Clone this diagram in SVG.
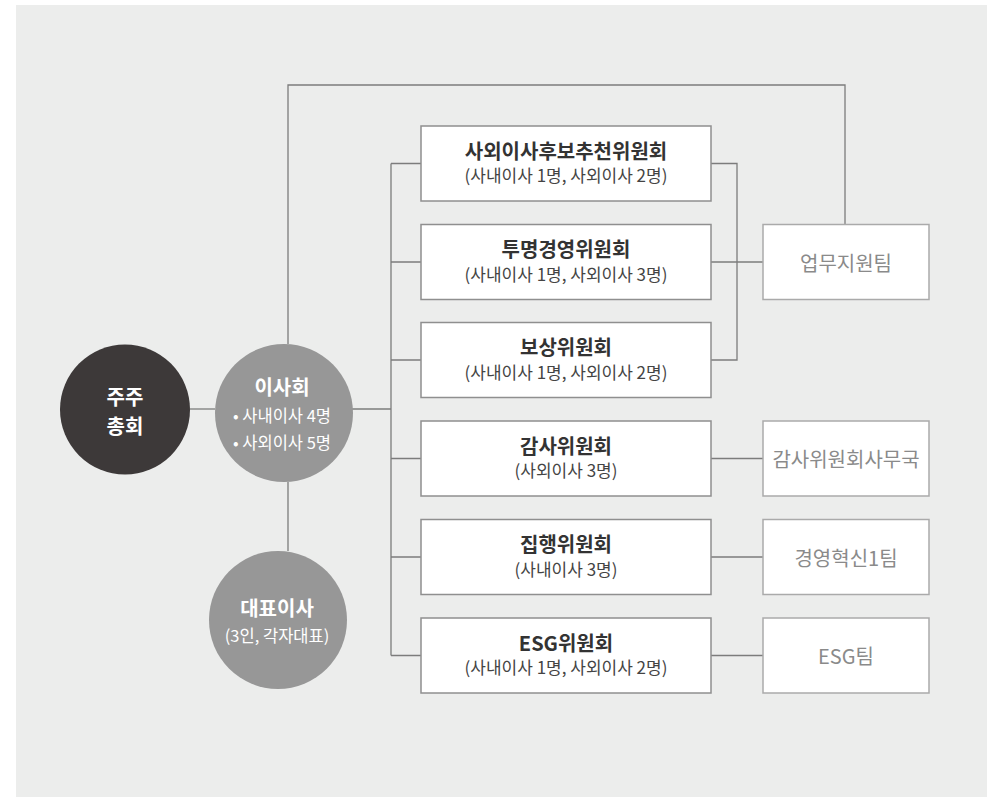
<svg xmlns="http://www.w3.org/2000/svg" width="987" height="797" viewBox="0 0 987 797">
<style>
text{font-family:"Noto Sans CJK KR","Noto Sans",sans-serif;text-anchor:middle;dominant-baseline:central}
.ttl{font-size:20px;font-weight:700;fill:#333}
.ctl{font-size:20px;font-weight:700;fill:#fff}
.sub{font-size:17px;font-weight:400;fill:#444}
.csub{font-size:16.5px;font-weight:400;fill:#fff}
.cbox{fill:#fff;stroke:#8f8f8f;stroke-width:1.5}
.tbox{fill:#fff;stroke:#aaa;stroke-width:1.5}
.team{font-size:20px;font-weight:400;fill:#8a8a8a}
.ln{fill:none;stroke:#7c7c7c;stroke-width:1.3}
</style>
<rect x="0" y="0" width="987" height="797" fill="#fff"/>
<rect x="16" y="5" width="971" height="792" fill="#ECEDEC"/>
<g id="connectors">
<path class="ln" d="M288 344 V85 H845 V224"/>
<path class="ln" d="M190 409 H215"/>
<path class="ln" d="M352 409 H391"/>
<path class="ln" d="M288 482 V551"/>
<path class="ln" d="M391 163.5 V655.5"/>
<path class="ln" d="M391 163.5 H421 M391 262 H421 M391 360 H421 M391 458.5 H421 M391 557 H421 M391 655.5 H421"/>
<path class="ln" d="M711 163.5 H737 V360 H711"/>
<path class="ln" d="M711 262 H763"/>
<path class="ln" d="M711 458.5 H763 M711 557 H763 M711 655.5 H763"/>
</g>
<g id="shareholders">
<circle cx="125" cy="409.5" r="65" fill="#3D3939"/>
<text class="ctl" x="125" y="396">주주</text>
<text class="ctl" x="125" y="425">총회</text>
</g>
<g id="board">
<circle cx="284" cy="413" r="69" fill="#979797"/>
<text class="ctl" x="282" y="386">이사회</text>
<text class="csub" x="282" y="415">• 사내이사 4명</text>
<text class="csub" x="282" y="442">• 사외이사 5명</text>
</g>
<g id="ceo">
<circle cx="278" cy="620" r="69" fill="#979797"/>
<text class="ctl" x="277" y="607">대표이사</text>
<text class="csub" x="277" y="635">(3인, 각자대표)</text>
</g>
<g id="c1">
<rect class="cbox" x="421" y="126" width="290" height="75"/>
<text class="ttl" x="566" y="150">사외이사후보추천위원회</text>
<text class="sub" x="566" y="174.5">(사내이사 1명, 사외이사 2명)</text>
</g>
<g id="c2">
<rect class="cbox" x="421" y="224.5" width="290" height="75"/>
<text class="ttl" x="566" y="248.5">투명경영위원회</text>
<text class="sub" x="566" y="273">(사내이사 1명, 사외이사 3명)</text>
</g>
<g id="c3">
<rect class="cbox" x="421" y="322.5" width="290" height="75"/>
<text class="ttl" x="566" y="346.5">보상위원회</text>
<text class="sub" x="566" y="371">(사내이사 1명, 사외이사 2명)</text>
</g>
<g id="c4">
<rect class="cbox" x="421" y="421" width="290" height="75"/>
<text class="ttl" x="566" y="445">감사위원회</text>
<text class="sub" x="566" y="469.5">(사외이사 3명)</text>
</g>
<g id="c5">
<rect class="cbox" x="421" y="519.5" width="290" height="75"/>
<text class="ttl" x="566" y="543.5">집행위원회</text>
<text class="sub" x="566" y="568">(사내이사 3명)</text>
</g>
<g id="c6">
<rect class="cbox" x="421" y="618" width="290" height="75"/>
<text class="ttl" x="566" y="642">ESG위원회</text>
<text class="sub" x="566" y="666.5">(사내이사 1명, 사외이사 2명)</text>
</g>
<g id="t1">
<rect class="tbox" x="763" y="224.5" width="166" height="75"/>
<text class="team" x="846" y="262">업무지원팀</text>
</g>
<g id="t2">
<rect class="tbox" x="763" y="421" width="166" height="75"/>
<text class="team" x="846" y="458.5">감사위원회사무국</text>
</g>
<g id="t3">
<rect class="tbox" x="763" y="519.5" width="166" height="75"/>
<text class="team" x="846" y="557">경영혁신1팀</text>
</g>
<g id="t4">
<rect class="tbox" x="763" y="618" width="166" height="75"/>
<text class="team" x="846" y="655.5">ESG팀</text>
</g>
</svg>
